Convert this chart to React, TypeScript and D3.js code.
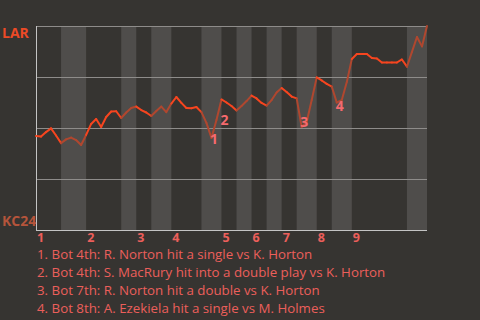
import React from "react";
import * as d3 from "d3";

// LAR win probability (%) after each event
const winProb: number[] = [
  46.1, 45.8, 48.0, 49.8, 46.3, 42.6, 44.4, 45.3, 44.1, 41.7,
  46.6, 52.0, 54.4, 50.5, 55.4, 58.1, 58.2, 54.9, 57.6, 59.8,
  60.5, 58.8, 57.6, 55.9, 58.3, 60.5, 57.8, 62.0, 65.2, 62.3,
  59.8, 59.7, 60.3, 57.8, 52.5, 45.1, 53.9, 64.0, 62.5, 60.8,
  58.6, 60.8, 63.2, 65.9, 64.5, 62.3, 61.0, 63.7, 67.4, 69.6,
  67.6, 65.4, 64.5, 50.5, 52.9, 63.7, 74.8, 73.3, 71.6, 70.3,
  62.5, 63.7, 72.5, 83.8, 86.3, 86.3, 86.3, 84.3, 84.1, 82.1,
  82.1, 82.1, 82.1, 83.6, 80.1, 87.3, 94.6, 90.0, 100,
];

// start event index of each inning
const inningStarts: number[] = [0, 10, 20, 27, 37, 43, 49, 56, 63];
const inningLabels: string[] = ["1", "2", "3", "4", "5", "6", "7", "8", "9"];
// bottom-half (home batting) ranges as [start, end] event indices
const bottomHalves: [number, number][] = [
  [5, 10], [17, 20], [23, 27], [33, 37], [40, 43], [46, 49], [52, 56], [59, 63], [74, 78],
];

const gridValues: number[] = [25, 50, 75, 100];

const keyEventIdx: number[] = [35, 36, 53, 60];
const keyEventNum: string[] = ["1", "2", "3", "4"];
const keyEventText: string[] = [
  "1. Bot 4th: R. Norton hit a single vs K. Horton",
  "2. Bot 4th: S. MacRury hit into a double play vs K. Horton",
  "3. Bot 7th: R. Norton hit a double vs K. Horton",
  "4. Bot 8th: A. Ezekiela hit a single vs M. Holmes",
];
const labelOffsets: [number, number][] = [[2.5, 0.5], [8, -1], [2.5, -5.5], [3, 2.5]];

const awayTeam = "LAR";
const homeTeam = "KC24";

const W = 480, H = 320;
const M = { left: 36, right: 427, top: 26, bottom: 230 };
const BG = "#363431";
const BAND = "#4f4d4b";
const AWAY_COLOR = "#f7451f";
const HOME_COLOR = "#b0472f";
const TEXT_COLOR = "#ec5f5b";
const FONT = "'Open Sans', sans-serif";

export default function App() {
  const x = d3.scaleLinear().domain([0, winProb.length - 1]).range([M.left, M.right]);
  const y = d3.scaleLinear().domain([0, 100]).range([M.bottom, M.top]);

  const inBottom = (mid: number) => bottomHalves.some(([a, b]) => mid > a && mid < b);

  const segs = d3.range(winProb.length - 1).map((i) => ({
    d: d3.line<number>().x((_, k) => x(i + k)).y((v) => y(v))([winProb[i], winProb[i + 1]]) || "",
    c: inBottom(i + 0.5) ? HOME_COLOR : AWAY_COLOR,
  }));

  return (
    <svg width={W} height={H} style={{ position: "absolute", left: 0, top: 0, display: "block" }} fontFamily={FONT}>
      <rect width={W} height={H} fill={BG} />
      {bottomHalves.map(([a, b], i) => (
        <rect key={i} x={x(a)} y={M.top} width={x(b) - x(a)} height={M.bottom - M.top} fill={BAND} />
      ))}
      {gridValues.map((v) => (
        <line key={v} x1={M.left} x2={M.right} y1={Math.round(y(v)) + 0.5} y2={Math.round(y(v)) + 0.5} stroke="#8e8c8a" strokeWidth={1} />
      ))}
      <line x1={M.left + 0.5} x2={M.left + 0.5} y1={M.top} y2={M.bottom} stroke="#c4c4c4" strokeWidth={1} />
      <line x1={M.left} x2={M.right} y1={M.bottom + 0.5} y2={M.bottom + 0.5} stroke="#c4c4c4" strokeWidth={1} />
      {segs.map((s, i) => (
        <path key={i} d={s.d} stroke={s.c} strokeWidth={2} fill="none" strokeLinecap="round" />
      ))}
      {keyEventIdx.map((idx, i) => (
        <text key={i} x={x(idx) + labelOffsets[i][0]} y={y(winProb[idx]) + labelOffsets[i][1]} textAnchor="middle" dominantBaseline="central" fill="#f56a6e" fontSize={14} fontWeight={700}>
          {keyEventNum[i]}
        </text>
      ))}
      <text x={2} y={38} fill="#ec4a26" fontSize={14} fontWeight={700}>{awayTeam}</text>
      <text x={2} y={226} fill="#b5543b" fontSize={14} fontWeight={700}>{homeTeam}</text>
      {inningStarts.map((s, i) => (
        <text key={i} x={x(s) + 1} y={242} fill={TEXT_COLOR} fontSize={12.5} fontWeight={700}>{inningLabels[i]}</text>
      ))}
      {keyEventText.map((t, i) => (
        <text key={i} x={37} y={259 + i * 18} fill={TEXT_COLOR} fontSize={13.3}>{t}</text>
      ))}
    </svg>
  );
}
